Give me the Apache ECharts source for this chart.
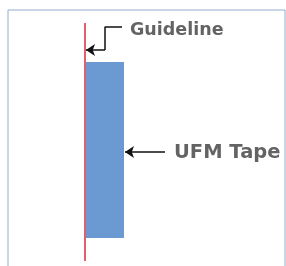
<!DOCTYPE html>
<html>
<head>
<meta charset="utf-8">
<script src="https://cdn.jsdelivr.net/npm/echarts@6/dist/echarts.min.js"></script>
<style>html,body{margin:0;padding:0;background:#fff}#c{width:286px;height:266px}</style>
</head>
<body>
<div id="c"></div>
<script>
// Schematic data (diagram units)
const guidelineX = 77;
const guidelineY = [13, 251];
const tapeX = [78, 116];
const tapeY = [52, 228];
const guidelineLeader = [[114, 17], [97, 17], [97, 40]];
const arrowSegments = [[[97, 40], [78, 40]], [[157, 142], [117, 142]]];
const labelNames = ['Guideline', 'UFM Tape'];
const labelPos = [[122, 20], [166, 143]];

const chart = echarts.init(document.getElementById('c'));
chart.setOption({
  animation: false,
  grid: { left: 8, top: 10, right: 1, bottom: -6, outerBoundsMode: 'none', containLabel: false, show: true, borderColor: '#93acd0', borderWidth: 1, backgroundColor: '#fff' },
  xAxis: { type: 'value', min: 0, max: 277, show: false },
  yAxis: { type: 'value', min: 0, max: 262, inverse: true, show: false },
  series: [
    {
      type: 'custom',
      data: [[tapeX[0], tapeY[0], tapeX[1], tapeY[1]]],
      renderItem: function (params, api) {
        const p0 = api.coord([api.value(0), api.value(1)]);
        const p1 = api.coord([api.value(2), api.value(3)]);
        return { type: 'rect', shape: { x: p0[0], y: p0[1], width: p1[0] - p0[0], height: p1[1] - p0[1] }, style: { fill: '#6a9ad1' } };
      }
    },
    {
      type: 'line',
      data: [[guidelineX, guidelineY[0]], [guidelineX, guidelineY[1]]],
      symbol: 'none',
      lineStyle: { color: '#e0606e', width: 2 }
    },
    {
      type: 'line',
      data: guidelineLeader,
      symbol: 'none',
      lineStyle: { color: '#111', width: 1.5 }
    },
    {
      type: 'lines',
      coordinateSystem: 'cartesian2d',
      symbol: ['none', 'arrow'],
      symbolSize: 9,
      lineStyle: { color: '#111', width: 1.5, opacity: 1 },
      data: arrowSegments.map(c => ({ coords: c }))
    },
    {
      type: 'scatter',
      symbolSize: 0,
      data: labelPos.map((p, i) => ({ value: p, name: labelNames[i], label: { fontSize: i === 0 ? 17.5 : 19.5 } })),
      label: {
        show: true, position: 'right', distance: 0,
        formatter: '{b}', color: '#3c3c3c', fontWeight: 'bold', fontFamily: 'DejaVu Sans'
      }
    }
  ]
});
</script>
</body>
</html>
